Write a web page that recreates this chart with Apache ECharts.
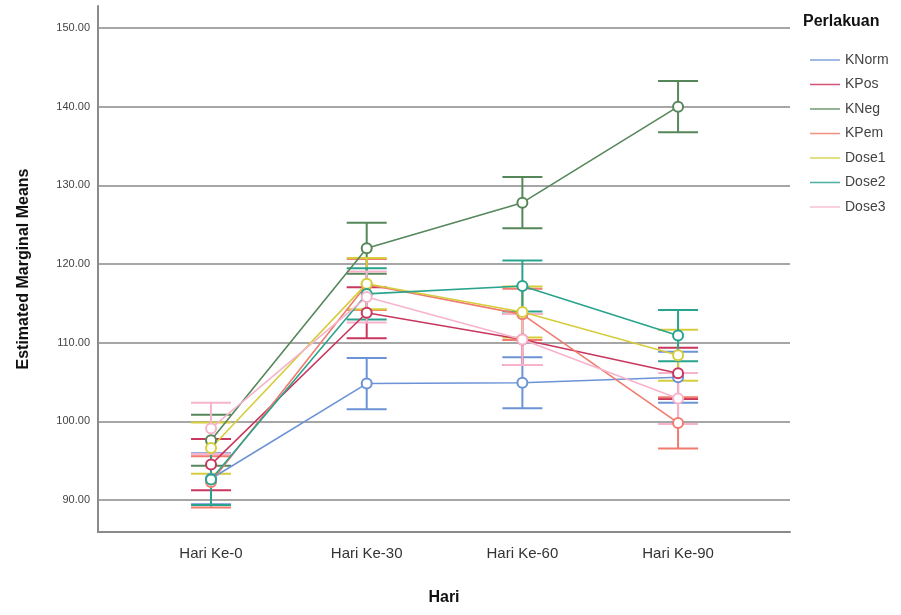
<!DOCTYPE html>
<html>
<head>
<meta charset="utf-8">
<script src="https://cdn.jsdelivr.net/npm/echarts@6/dist/echarts.min.js"></script>
<style>html,body{margin:0;padding:0;background:#fff;}#chart{width:901px;height:615px;}</style>
</head>
<body>
<div id="chart"></div>
<script>
const categories = ['Hari Ke-0', 'Hari Ke-30', 'Hari Ke-60', 'Hari Ke-90'];
const seriesNames = ['KNorm', 'KPos', 'KNeg', 'KPem', 'Dose1', 'Dose2', 'Dose3'];
const KNorm = [92.7, 104.8, 104.9, 105.6];
const KPos  = [94.5, 113.8, 110.4, 106.1];
const KNeg  = [97.6, 122.0, 127.8, 140.0];
const KPem  = [92.3, 117.4, 113.6, 99.8];
const Dose1 = [96.6, 117.5, 113.9, 108.4];
const Dose2 = [92.6, 116.2, 117.2, 110.9];
const Dose3 = [99.1, 115.8, 110.4, 102.9];
const ciHalfWidth = 3.25;
const yTicks = [90, 100, 110, 120, 130, 140, 150];

const values = [KNorm, KPos, KNeg, KPem, Dose1, Dose2, Dose3];
const colors = ['#6b93d6', '#c8375e', '#55875a', '#f07b6e', '#d6cd3c', '#2aa38e', '#f7b3cb'];
const FONT = 'Liberation Sans, Arial, sans-serif';

const series = [];
seriesNames.forEach((name, i) => {
  const c = colors[i];
  series.push({
    name: name,
    type: 'line',
    z: 3,
    symbol: 'emptyCircle',
    symbolSize: 10,
    lineStyle: { color: c, width: 1.6 },
    itemStyle: { color: c, borderColor: c, borderWidth: 1.5 },
    data: values[i].map((v, k) => [k, v])
  });
  series.push({
    name: name,
    type: 'custom',
    z: 2,
    itemStyle: { color: c },
    renderItem: function (params, api) {
      const x = api.value(0), lo = api.value(1), hi = api.value(2);
      const pLo = api.coord([x, lo]);
      const pHi = api.coord([x, hi]);
      const hw = 20;
      const style = { stroke: c, lineWidth: 2 };
      return {
        type: 'group',
        children: [
          { type: 'line', shape: { x1: pLo[0], y1: pLo[1], x2: pHi[0], y2: pHi[1] }, style: style },
          { type: 'line', shape: { x1: pLo[0] - hw, y1: pLo[1], x2: pLo[0] + hw, y2: pLo[1] }, style: style },
          { type: 'line', shape: { x1: pHi[0] - hw, y1: pHi[1], x2: pHi[0] + hw, y2: pHi[1] }, style: style }
        ]
      };
    },
    encode: { x: 0, y: [1, 2] },
    data: values[i].map((v, k) => [k, v - ciHalfWidth, v + ciHalfWidth])
  });
});

const chart = echarts.init(document.getElementById('chart'), null, { renderer: 'canvas' });
chart.setOption({
  animation: false,
  backgroundColor: '#ffffff',
  color: colors,
  textStyle: { fontFamily: FONT },
  title: {
    text: 'Perlakuan',
    left: 798,
    top: 9,
    textStyle: { fontFamily: FONT, fontSize: 16, fontWeight: 'bold', color: '#111' }
  },
  legend: {
    orient: 'vertical',
    left: 805,
    top: 48,
    itemWidth: 30,
    itemHeight: 1.5,
    itemGap: 10.5,
    icon: 'rect',
    data: seriesNames.map((n, i) => ({ name: n, itemStyle: { color: colors[i], opacity: 0.85, borderWidth: 0 } })),
    textStyle: { fontFamily: FONT, fontSize: 14, color: '#444' }
  },
  grid: { left: 98, right: 111, top: 6, bottom: 83, containLabel: false },
  xAxis: {
    type: 'value',
    min: -0.726,
    max: 3.719,
    name: 'Hari',
    nameLocation: 'middle',
    nameGap: 58,
    nameTextStyle: { fontFamily: FONT, fontSize: 16, fontWeight: 'bold', color: '#111' },
    axisLine: { onZero: false, lineStyle: { color: '#8a8a8a', width: 2 } },
    axisTick: { show: false },
    splitLine: { show: false },
    axisLabel: {
      customValues: [0, 1, 2, 3],
      formatter: v => categories[v],
      fontFamily: FONT,
      fontSize: 15,
      color: '#333',
      margin: 14
    }
  },
  yAxis: {
    type: 'value',
    min: 85.93,
    max: 152.8,
    name: 'Estimated Marginal Means',
    nameLocation: 'middle',
    nameGap: 66,
    nameTextStyle: { fontFamily: FONT, fontSize: 16, fontWeight: 'bold', color: '#111' },
    axisLine: { show: true, onZero: false, lineStyle: { color: '#8a8a8a', width: 2 } },
    axisTick: { show: true, length: 0, customValues: yTicks },
    splitLine: { show: true, lineStyle: { color: '#a6a6a6', width: 2 } },
    axisLabel: {
      customValues: yTicks,
      formatter: v => v.toFixed(2),
      fontFamily: FONT,
      fontSize: 11,
      color: '#444',
      margin: 8
    }
  },
  series: series
});
</script>
</body>
</html>
